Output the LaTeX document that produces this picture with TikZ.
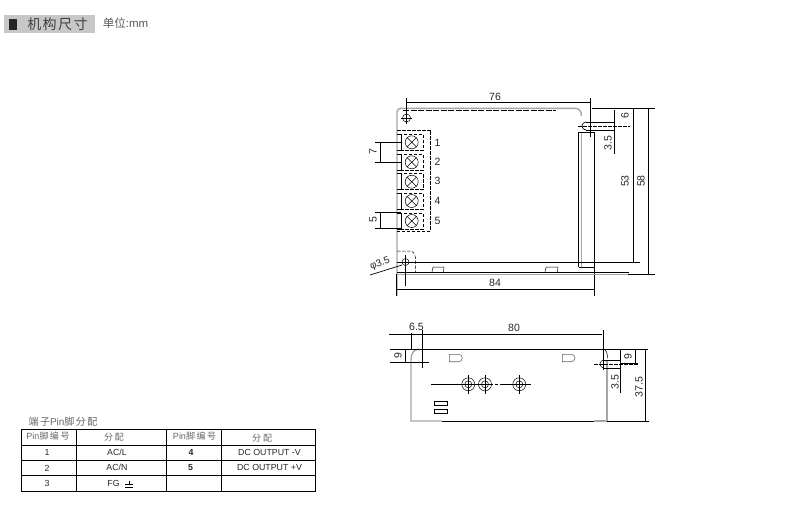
\documentclass[tikz,border=0pt]{standalone}
\usepackage{fontspec}
\setmainfont{Liberation Sans}
\newfontfamily\cjk{Noto Sans CJK SC}
\usepackage{tikz}
\usetikzlibrary{shapes,arrows}

\begin{document}
\begin{tikzpicture}[x=1pt,y=-1pt]
	\def \dimtop{102.3}
	\def \bodytop{108.3}
	\def \slotlevel{126}
	\def \holelevel{262}
	\def \bodylow{272.7}
	\def \dimlow{289.3}
	\def \viewtop{349.3}
	\def \viewlow{421}
	\def \studlevel{384.3}

	\tikzstyle{outline}=[draw=black!35,line width=1.4pt]
	\tikzstyle{thin-line}=[draw=black,line width=0.7pt]
	\tikzstyle{dash-line}=[draw=black,line width=0.6pt,dash pattern=on 3.5pt off 1.5pt]
	\tikzstyle{dim}=[font=\fontsize{10.5}{10}\selectfont,inner sep=0pt,text=black!85]
	\tikzstyle{vdim}=[dim,rotate=90]
	\tikzstyle{pin-label}=[font=\fontsize{10.5}{10}\selectfont,inner sep=0pt,text=black!85]
	\tikzstyle{screw}=[circle,draw=black,line width=0.5pt,inner sep=0pt,minimum size=13pt]
	\tikzstyle{ring}=[circle,draw=black,line width=0.5pt,inner sep=0pt]
	\tikzstyle{cell}=[font=\fontsize{8.8}{9}\selectfont,inner sep=0pt,text=black!85]
	\tikzstyle{head}=[cell,text=black!60,font=\cjk\fontsize{9}{9}\selectfont]

	% page heading
	\node[fill=black!22,minimum width=91pt,minimum height=18pt,inner sep=0pt] (heading) at (49.5,24) {};
	\node[fill=black!85,minimum width=8pt,minimum height=11pt,inner sep=0pt] (mark) at (13,24.5) {};
	\node[font=\cjk\fontsize{14}{14}\selectfont,text=black!75,inner sep=0pt] (title) at (57.5,24) {机\kern1.5pt 构\kern1.5pt 尺\kern1.5pt 寸};
	\node[font=\cjk\fontsize{11.5}{11}\selectfont,text=black!65,inner sep=0pt] (unit) at (125.5,23.5) {单位{\rmfamily:mm}};

	% top view: body
	\draw[outline] (397,296) -- (397,112) arc (180:270:3.7) -- (575,\bodytop) .. controls (579,\bodytop) and (581.5,111) .. (581.5,116);
	\draw[outline] (581.5,132) -- (581.5,267);
	\draw[dash-line,dash pattern=on 6pt off 1.5pt] (403,110) -- (556,110);
	\draw[thin-line] (578.5,267) -- (578.5,132) -- (594.5,132) -- (594.5,296);
	\draw[thin-line] (578.5,267) -- (594.5,267);
	\draw[thin-line] (397,\holelevel) -- (640,\holelevel);
	\draw[thin-line] (397,\bodylow) -- (629,\bodylow);
	\draw[outline,line width=1pt] (397,274.6) -- (629,274.6);
	\draw[thin-line,line width=0.5pt] (432,272) -- (432.5,269) .. controls (433,267) .. (436,267) -- (444,267) -- (443.5,272);
	\draw[thin-line,line width=0.5pt] (545,272) -- (545.5,269) .. controls (546,267) .. (549,267) -- (558,267) -- (557.5,272);

	% terminal block
	\draw[dash-line] (397,130) -- (430.7,130) -- (430.7,231) -- (397,231);
	\node[screw] (s1) at (411.7,142.3) {};
	\node[screw] (s2) at (411.7,162.3) {};
	\node[screw] (s3) at (411.7,181.7) {};
	\node[screw] (s4) at (411.7,201) {};
	\node[screw] (s5) at (411.7,221) {};
	\draw[thin-line,line width=0.5pt] (s1.north west) -- (s1.south east) (s1.north east) -- (s1.south west);
	\draw[thin-line,line width=0.5pt] (s2.north west) -- (s2.south east) (s2.north east) -- (s2.south west);
	\draw[thin-line,line width=0.5pt] (s3.north west) -- (s3.south east) (s3.north east) -- (s3.south west);
	\draw[thin-line,line width=0.5pt] (s4.north west) -- (s4.south east) (s4.north east) -- (s4.south west);
	\draw[thin-line,line width=0.5pt] (s5.north west) -- (s5.south east) (s5.north east) -- (s5.south west);
	\draw[dash-line] (401,134.3) rectangle (423,150.3);
	\draw[dash-line] (401,154.3) rectangle (423,170.3);
	\draw[dash-line] (401,173.7) rectangle (423,189.7);
	\draw[dash-line] (401,193) rectangle (423,209);
	\draw[dash-line] (401,213) rectangle (423,229);
	\draw[thin-line,line width=0.5pt] (397,134.3) -- (401,134.3) -- (401,150.3) -- (397,150.3);
	\draw[thin-line,line width=0.5pt] (397,154.3) -- (401,154.3) -- (401,170.3) -- (397,170.3);
	\draw[thin-line,line width=0.5pt] (397,173.7) -- (401,173.7) -- (401,189.7) -- (397,189.7);
	\draw[thin-line,line width=0.5pt] (397,193) -- (401,193) -- (401,209) -- (397,209);
	\draw[thin-line,line width=0.5pt] (397,213) -- (401,213) -- (401,229) -- (397,229);
	\node[pin-label] (p1) at (437.5,142.5) {1};
	\node[pin-label] (p2) at (437.5,162) {2};
	\node[pin-label] (p3) at (437.5,181) {3};
	\node[pin-label] (p4) at (437.5,201) {4};
	\node[pin-label] (p5) at (437.5,220.5) {5};

	% top view: holes
	\node[ring,minimum size=8pt] (h1) at (406.5,118) {};
	\draw[thin-line] (406.5,98) -- (406.5,124);
	\draw[thin-line] (401,118) -- (412,118);
	\node[ring,minimum size=7pt] (h2) at (405.5,\holelevel) {};
	\draw[thin-line] (405.5,255) -- (405.5,286);
	\draw[dash-line,line width=0.5pt] (397,251) -- (410,251) .. controls (413,251) and (415,254) .. (415.5,258) -- (415.5,272);
	\draw[thin-line] (370,275) -- (402,265);
	\node[dim,rotate=20,font=\fontsize{10}{10}\selectfont] (phi) at (380,264) {φ3.5};

	% top view: slot
	\draw[thin-line] (586,122) arc (-90:-270:4);
	\draw[thin-line] (586,122) -- (614,122);
	\draw[thin-line] (586,130) -- (614,130);
	\draw[dash-line] (578,\slotlevel) -- (630,\slotlevel);

	% top view: dimensions
	\draw[thin-line] (406.5,\dimtop) -- (590,\dimtop);
	\draw[thin-line] (590,98) -- (590,137);
	\node[dim] (d76) at (495,96.5) {76};
	\draw[thin-line] (592,\bodytop) -- (655,\bodytop);
	\draw[thin-line] (614.3,110) -- (614.3,154);
	\node[vdim] (d35) at (608,143) {3.5};
	\node[vdim] (d6) at (625,115.5) {6};
	\draw[thin-line] (633,\bodytop) -- (633,\holelevel);
	\node[vdim] (d53) at (625,181) {53};
	\draw[thin-line] (648,\bodytop) -- (648,274.5);
	\draw[thin-line] (628,274.5) -- (655,274.5);
	\node[vdim] (d58) at (641,181) {58};
	\draw[thin-line] (397,\dimlow) -- (594,\dimlow);
	\draw[thin-line] (396.5,274) -- (396.5,296);
	\node[dim] (d84) at (495,283) {84};
	\draw[thin-line] (380,142.3) -- (380,162.3);
	\draw[thin-line] (375,142.3) -- (402,142.3);
	\draw[thin-line] (375,162.3) -- (402,162.3);
	\node[vdim] (d7) at (373,152) {7};
	\draw[thin-line] (380,212.7) -- (380,228.3);
	\draw[thin-line] (375,212.7) -- (401,212.7);
	\draw[thin-line] (375,228.3) -- (401,228.3);
	\node[vdim] (d5) at (373,220) {5};

	% front view: body
	\draw[outline] (419,\viewtop) .. controls (414,\viewtop) and (411,353) .. (411,360) -- (411,\viewlow) -- (442,\viewlow);
	\draw[thin-line] (442,\viewlow) -- (594,\viewlow);
	\draw[outline] (594,\viewlow) -- (607,\viewlow) -- (607,360);
	\draw[thin-line,line width=0.5pt] (604,\viewtop) .. controls (606,350) and (607.5,353) .. (607.5,358);
	\draw[thin-line] (390,\viewtop) -- (648,\viewtop);
	\draw[draw=black!60,line width=0.6pt] (449.3,354.3) -- (458.6,354.3) arc (-90:90:3.7) -- (449.3,361.7) -- cycle;
	\draw[draw=black!60,line width=0.6pt] (562.3,354.3) -- (571.3,354.3) arc (-90:90:3.7) -- (562.3,361.7) -- cycle;
	\draw[thin-line,line width=0.5pt] (434.3,401.3) rectangle (447.6,405);
	\draw[thin-line,line width=0.5pt] (434.3,409.6) rectangle (447.6,413.6);

	% front view: studs
	\node[ring,minimum size=13pt] (t1) at (468.3,\studlevel) {};
	\node[ring,minimum size=7pt] (t1i) at (468.3,\studlevel) {};
	\node[ring,minimum size=13pt] (t2) at (485,\studlevel) {};
	\node[ring,minimum size=7pt] (t2i) at (485,\studlevel) {};
	\node[ring,minimum size=13pt] (t3) at (519.3,\studlevel) {};
	\node[ring,minimum size=7pt] (t3i) at (519.3,\studlevel) {};
	\draw[thin-line] (431,\studlevel) -- (493,\studlevel);
	\draw[thin-line] (495,\studlevel) -- (498,\studlevel);
	\draw[thin-line] (500,\studlevel) -- (531,\studlevel);
	\draw[thin-line] (468.3,375) -- (468.3,394);
	\draw[thin-line] (485,375) -- (485,394);
	\draw[thin-line] (519.3,375) -- (519.3,394);

	% front view: slot
	\draw[thin-line,line width=0.5pt] (604,360) arc (-90:-270:4);
	\draw[thin-line] (604,360) -- (620,360);
	\draw[thin-line] (604,368) -- (620,368);
	\draw[dash-line] (594,364) -- (638,364);

	% front view: dimensions
	\draw[thin-line] (389,334.3) -- (601.7,334.3);
	\draw[thin-line] (603.3,330) -- (603.3,370);
	\node[dim] (d80) at (514,328) {80};
	\node[dim] (d65) at (416.5,326.5) {6.5};
	\draw[thin-line] (411.3,333) -- (411.3,350);
	\draw[thin-line] (422.3,330) -- (422.3,368);
	\draw[thin-line] (405.7,\viewtop) -- (405.7,362.3);
	\draw[thin-line] (390,362.3) -- (429,362.3);
	\node[vdim] (d9a) at (398,356) {9};
	\draw[thin-line] (620,\viewtop) -- (620,393);
	\node[vdim] (d35b) at (615,382) {3.5};
	\draw[thin-line] (620,363) -- (638,363);
	\draw[thin-line] (635.7,\viewtop) -- (635.7,363);
	\node[vdim] (d9b) at (628,357) {9};
	\draw[thin-line] (645.7,\viewtop) -- (645.7,\viewlow);
	\draw[thin-line] (607,\viewlow) -- (649,\viewlow);
	\node[vdim] (d375) at (639,387) {37.5};

	% pin table
	\node[font=\cjk\fontsize{10}{10}\selectfont,text=black!60,inner sep=0pt] (tabletitle) at (63,421.5) {端\kern1.5pt 子{\rmfamily Pin}脚\kern1.5pt 分\kern1.5pt 配};
	\draw[thin-line] (21.7,429.3) rectangle (315,491);
	\draw[thin-line] (21.7,445) -- (315,445);
	\draw[thin-line] (21.7,460) -- (315,460);
	\draw[thin-line] (21.7,475.7) -- (315,475.7);
	\draw[thin-line] (76.7,429.3) -- (76.7,491);
	\draw[thin-line] (166.3,429.3) -- (166.3,445);
	\draw[thin-line,line width=1.3pt] (166.3,445) -- (166.3,491);
	\draw[thin-line] (221.7,429.3) -- (221.7,491);

	\node[head] (ha) at (48,436.5) {{\rmfamily Pin}脚\kern1.5pt 编\kern1.5pt 号};
	\node[head] (hb) at (114,437) {分\kern2pt 配};
	\node[head] (hc) at (194.5,436.5) {{\rmfamily Pin}脚\kern1.5pt 编\kern1.5pt 号};
	\node[head] (hd) at (262,438) {分\kern2pt 配};
	\node[cell] (a1) at (47,452.5) {1};
	\node[cell] (b1) at (117,452) {AC/L};
	\node[cell] (a2) at (47,468) {2};
	\node[cell] (b2) at (117,467) {AC/N};
	\node[cell] (a3) at (47,483) {3};
	\node[cell] (b3) at (113.5,483) {FG};
	\node[cell,font=\bfseries\fontsize{8.8}{9}\selectfont] (c1) at (191,452.5) {4};
	\node[cell,font=\bfseries\fontsize{8.8}{9}\selectfont] (c2) at (190.5,468) {5};
	\node[cell] (d1) at (269.5,452.5) {DC OUTPUT -V};
	\node[cell] (d2) at (269.5,467.5) {DC OUTPUT +V};
	% ground mark
	\draw[thin-line,line width=0.5pt] (129,480.5) -- (129,484);
	\draw[thin-line,line width=0.5pt] (125,484) -- (133,484);
	\draw[thin-line,line width=0.5pt] (125,487) -- (133,487);

	\useasboundingbox (0,0) rectangle (792,507);
\end{tikzpicture}
\end{document}
